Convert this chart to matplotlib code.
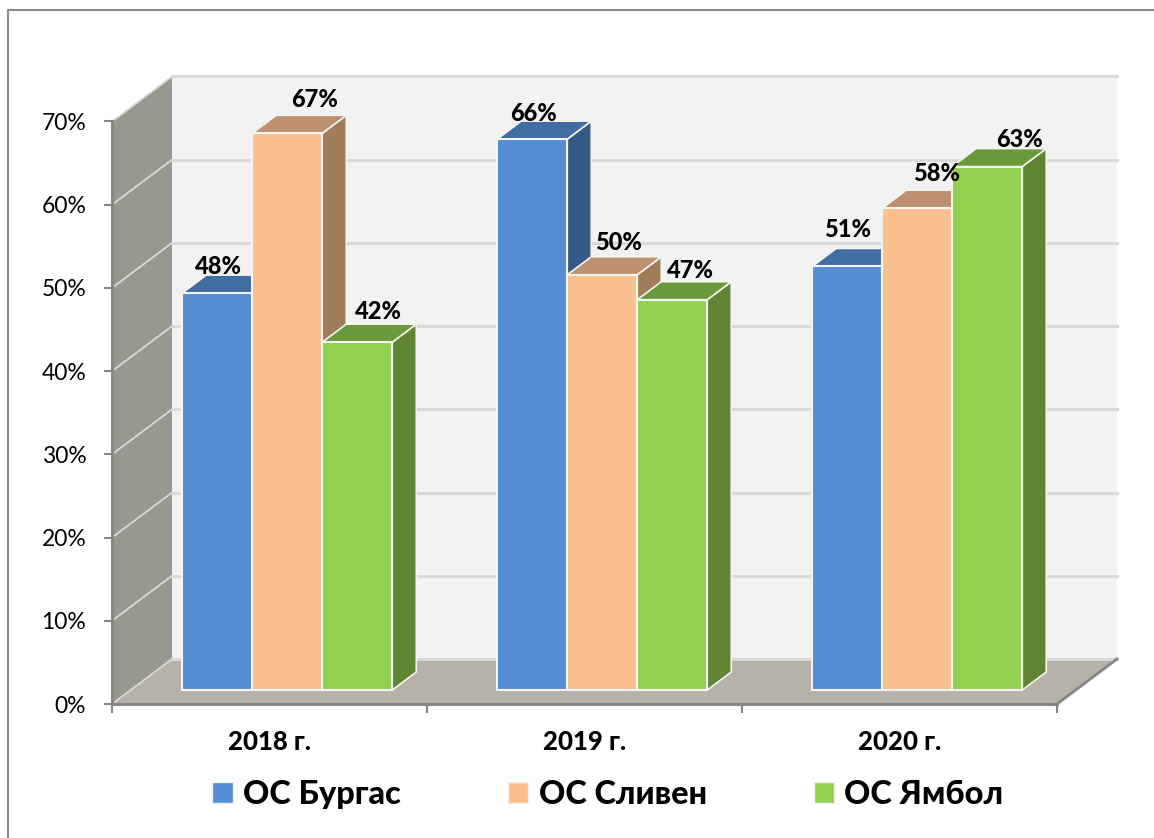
import matplotlib
matplotlib.use("Agg")
import matplotlib.pyplot as plt
from matplotlib.lines import Line2D
from matplotlib.patches import Patch

plt.rcParams["font.family"] = ["Lato", "Noto Sans", "DejaVu Sans"]

# data
years = ["2018 г.", "2019 г.", "2020 г."]
series_names = ["ОС Бургас", "ОС Сливен", "ОС Ямбол"]
burgas = [47.7, 66.2, 50.9]
sliven = [66.9, 49.9, 57.9]
yambol = [41.8, 46.9, 62.9]
y_ticks = [0, 10, 20, 30, 40, 50, 60, 70]

front_colors = ["#558ED5", "#FAC090", "#92D050"]
top_colors = ["#416DA3", "#BD9170", "#6B9A3C"]
side_colors = ["#345A88", "#A07C5B", "#5F8432"]

# label offsets from the bar top, pixels
label_offsets = [
    [(1, 27), (27, 34), (21, 31)],
    [(1, 26), (16, 32), (18, 29)],
    [(0, 37), (19, 35), (32, 27)],
]

W, H = 1154, 838
fig = plt.figure(figsize=(W / 100, H / 100), dpi=100)
ax = fig.add_axes([112 / W, 1 - 704 / H, (1057 - 112) / W, (704 - 121.5) / H])
ax.set_xlim(0, 3)
ax.set_ylim(0, 70)
ax.patch.set_visible(False)

# oblique projection: depth 0 is the axis plane, depth 1 the back wall
depth_x = 60 / 315
depth_y = 45 / 8.32


def proj(x, y, d):
    return x + d * depth_x, y + d * depth_y


def face(points, color, edge="none", lw=0, z=1):
    xs = [p[0] for p in points]
    ys = [p[1] for p in points]
    ax.fill(xs, ys, facecolor=color, edgecolor=edge, linewidth=lw,
            joinstyle="miter", clip_on=False, zorder=z)


# walls and floor
face([proj(0, 0, 1), proj(3, 0, 1), proj(3, 70, 1), proj(0, 70, 1)], "#F2F2F2")
face([proj(0, 0, 0), proj(0, 0, 1), proj(0, 70, 1), proj(0, 70, 0)], "#99988E")
face([proj(0, 0, 0), proj(3, 0, 0), proj(3, 0, 1), proj(0, 0, 1)], "#B6B2AA")

for v in y_ticks:
    a = proj(0, v, 0)
    b = proj(0, v, 1)
    c = proj(3, v, 1)
    ax.plot([a[0], b[0]], [a[1], b[1]], color="#D9D9D9", lw=1.3, clip_on=False, zorder=1.2)
    ax.plot([b[0], c[0]], [b[1], c[1]], color="#D9D9D9", lw=2.2, clip_on=False, zorder=1.2)
a = proj(3, 0, 0)
b = proj(3, 0, 1)
ax.plot([a[0], b[0]], [a[1], b[1]], color="#868686", lw=2, clip_on=False, zorder=1.3)

# bars
bar_w = 70 / 315
bar_d0 = 14 / 45
bar_d1 = 32 / 45
group_start = 51.6 / 315
edge = "#F4F4F0"
all_values = [burgas, sliven, yambol]
for g in range(len(years)):
    for s in range(len(series_names)):
        v = all_values[s][g]
        x0 = g + group_start + s * bar_w
        x1 = x0 + bar_w
        z = 3 + g + s * 0.1
        face([proj(x1, 0, bar_d0), proj(x1, 0, bar_d1), proj(x1, v, bar_d1), proj(x1, v, bar_d0)],
             side_colors[s], edge, 1.2, z)
        face([proj(x0, v, bar_d0), proj(x1, v, bar_d0), proj(x1, v, bar_d1), proj(x0, v, bar_d1)],
             top_colors[s], edge, 1.2, z)
        face([proj(x0, 0, bar_d0), proj(x1, 0, bar_d0), proj(x1, v, bar_d0), proj(x0, v, bar_d0)],
             front_colors[s], edge, 1.5, z + 0.01)
        off = label_offsets[g][s]
        cx, cy = proj((x0 + x1) / 2, v, bar_d0)
        ax.annotate(f"{v:.0f}%", (cx, cy), xytext=(off[0] * 0.72, off[1] * 0.72),
                    textcoords="offset points", ha="center", va="center",
                    fontsize=17, fontweight="black", color="black", zorder=20,
                    annotation_clip=False)

# axes
for name in ["top", "right"]:
    ax.spines[name].set_visible(False)
for name in ["left", "bottom"]:
    ax.spines[name].set_color("#868686")
    ax.spines[name].set_linewidth(2.2)
ax.set_yticks(y_ticks)
ax.set_yticklabels([f"{v}%" for v in y_ticks], fontsize=16.5, color="black")
ax.tick_params(axis="y", length=5.5, width=1.5, color="#868686", pad=13)
ax.set_xticks([0, 1, 2, 3])
ax.set_xticklabels([])
ax.tick_params(axis="x", which="major", length=6.5, width=1.5, color="#868686")
ax.set_xticks([0.5, 1.5, 2.5], minor=True)
ax.set_xticklabels(years, minor=True, fontsize=18.5, fontweight="black", color="black")
ax.tick_params(axis="x", which="minor", length=0, pad=19)

# legend
handles = [Patch(facecolor=c, edgecolor="#F0F0F0", linewidth=1) for c in front_colors]
fig.legend(handles, series_names, loc="center", bbox_to_anchor=(608 / W, 1 - 794 / H),
           ncol=3, frameon=False, handlelength=0.62, handleheight=0.62,
           handletextpad=0.32, columnspacing=3.3,
           prop={"size": 23.4, "weight": "black"})

# outer chart frame, only top and left are inside the picture
fig.add_artist(Line2D([8 / W, 8 / W, 1], [0, 1 - 10.5 / H, 1 - 10.5 / H],
                      color="#8C8C8C", lw=1.5, transform=fig.transFigure))

fig.savefig("out.png", dpi=100)
